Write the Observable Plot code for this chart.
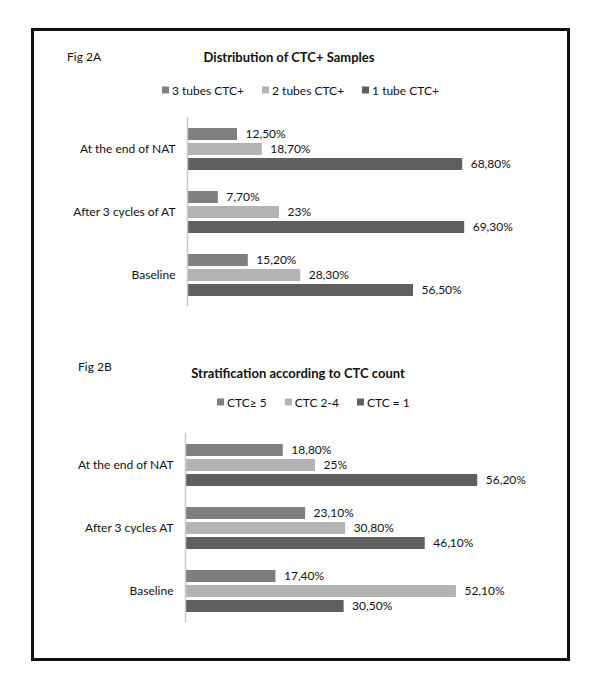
<!DOCTYPE html>
<html>
<head>
<meta charset="utf-8">
<script src="https://cdn.jsdelivr.net/npm/d3@7"></script>
<script src="https://cdn.jsdelivr.net/npm/@observablehq/plot@0.6"></script>
<style>
  html, body { margin: 0; padding: 0; background: #fff; }
  #page { position: relative; width: 600px; height: 694px; font-family: Lato, "Open Sans", sans-serif; color: #111; }
  .abs { position: absolute; white-space: nowrap; }
  .frame { position: absolute; left: 31px; top: 28px; width: 533px; height: 627px; border: 3px solid #111; }
  .fig { font-size: 12px; }
  .title { font-size: 13px; font-weight: bold; transform: translate(-50%, -50%); }
  .legend { display: flex; align-items: center; font-size: 12px; gap: 18px; transform: translateY(-50%); }
  .legend .item { display: flex; align-items: center; }
  .legend .sw { width: 7px; height: 7px; margin-right: 3px; display: inline-block; }
  svg { position: absolute; left: 0; }
</style>
</head>
<body>
<div id="page">
  <div class="frame"></div>
</div>
<script>
// ---- Data ----
const catsA = ["At the end of NAT", "After 3 cycles of AT", "Baseline"];
const seriesA = ["3 tubes CTC+", "2 tubes CTC+", "1 tube CTC+"];
const tubes3 = [12.5, 7.7, 15.2];
const tubes2 = [18.7, 23, 28.3];
const tube1 = [68.8, 69.3, 56.5];

const catsB = ["At the end of NAT", "After 3 cycles AT", "Baseline"];
const seriesB = ["CTC\u2265 5", "CTC 2-4", "CTC = 1"];
const ctc5 = [18.8, 23.1, 17.4];
const ctc24 = [25, 30.8, 52.1];
const ctc1 = [56.2, 46.1, 30.5];

const colors = ["#7f7f7f", "#b3b3b3", "#5f5f5f"];

const page = document.getElementById("page");

function addText(cls, text, left, top) {
  const d = document.createElement("div");
  d.className = "abs " + cls;
  d.textContent = text;
  d.style.left = left + "px";
  d.style.top = top + "px";
  page.appendChild(d);
  return d;
}

function addLegend(series, left, cy) {
  const d = document.createElement("div");
  d.className = "abs legend";
  d.style.left = left + "px";
  d.style.top = cy + "px";
  series.forEach((s, i) => {
    const it = document.createElement("div");
    it.className = "item";
    const sw = document.createElement("span");
    sw.className = "sw";
    sw.style.background = colors[i];
    it.appendChild(sw);
    it.appendChild(document.createTextNode(s));
    d.appendChild(it);
  });
  page.appendChild(d);
}

const fmt = v => (Number.isInteger(v) ? String(v) : v.toFixed(2).replace(".", ",")) + "%";

function makeRows(cats, series, arrays) {
  const rows = [];
  cats.forEach((c, ci) => series.forEach((s, si) => rows.push({cat: c, series: s, value: arrays[si][ci]})));
  return rows;
}

function chart(cats, series, arrays, xmax, marginLeft, marginRight) {
  const rows = makeRows(cats, series, arrays);
  return Plot.plot({
    width: 600,
    height: 209,
    marginTop: 10,
    marginBottom: 10,
    marginLeft,
    marginRight,
    style: {fontFamily: "Lato, 'Open Sans', sans-serif", fontSize: "12px", color: "#111", background: "transparent", overflow: "visible"},
    x: {domain: [0, xmax], axis: null},
    y: {domain: series, axis: null, paddingInner: 0.226, paddingOuter: 0.645},
    fy: {domain: cats, padding: 0, label: null, axis: null},
    color: {domain: series, range: colors},
    marks: [
      Plot.barX(rows, {fy: "cat", y: "series", x: "value", fill: "series"}),
      Plot.text(rows, {fy: "cat", y: "series", x: "value", text: d => fmt(d.value), textAnchor: "start", dx: 8, fill: "#111", fontSize: 12}),
      Plot.axisFy({anchor: "left", tickSize: 0, tickPadding: 12, fontSize: 12, label: null}),
      Plot.ruleX([0], {stroke: "#c8c8c8", strokeWidth: 1.5})
    ]
  });
}

// ---- Chart A ----
addText("fig", "Fig 2A", 67, 49);
addText("title", "Distribution of CTC+ Samples", 289, 57);
addLegend(seriesA, 162, 90);
const svgA = chart(catsA, seriesA, [tubes3, tubes2, tube1], 80, 187, 93);
svgA.style.top = "107px";
page.appendChild(svgA);

// ---- Chart B ----
addText("fig", "Fig 2B", 78, 359);
addText("title", "Stratification according to CTC count", 298, 373);
addLegend(seriesB, 217, 402);
const svgB = chart(catsB, seriesB, [ctc5, ctc24, ctc1], 70, 185, 51);
svgB.style.top = "423px";
page.appendChild(svgB);
</script>
</body>
</html>
